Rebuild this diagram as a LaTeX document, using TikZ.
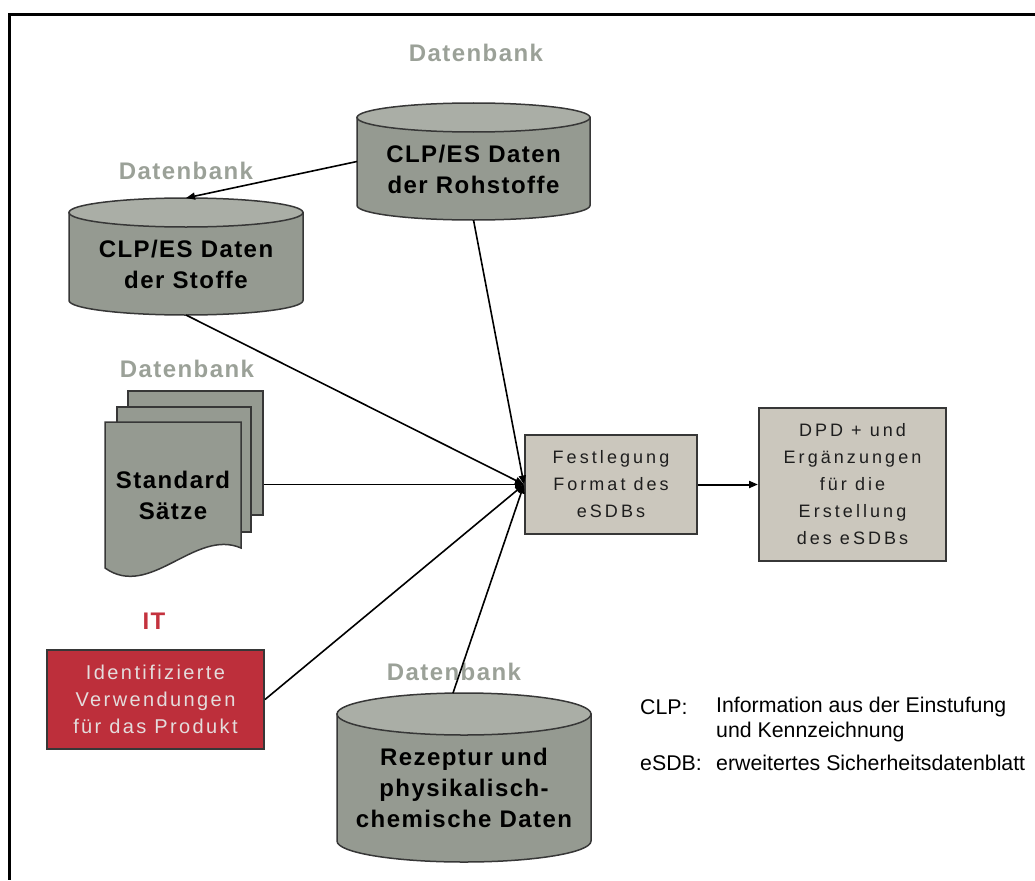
\documentclass[tikz,border=0pt]{standalone}
\usepackage{fontspec}
\setmainfont{Liberation Sans}
\newfontfamily\lblfont[LetterSpace=6]{Liberation Sans}
\newfontfamily\boxfont[LetterSpace=17]{Liberation Sans}
\newfontfamily\itboxfont[LetterSpace=12]{Liberation Sans}
\usetikzlibrary{arrows.meta}
\definecolor{cylbody}{RGB}{149,154,145}
\definecolor{cyltop}{RGB}{170,174,166}
\definecolor{outline}{RGB}{55,55,55}
\definecolor{dbgray}{RGB}{155,161,152}
\definecolor{festfill}{RGB}{203,199,189}
\definecolor{itred}{RGB}{189,47,59}
\definecolor{itlabel}{RGB}{196,50,62}
\definecolor{itlight}{RGB}{228,220,220}
\definecolor{boxtext}{RGB}{30,30,30}
\newcommand{\dbcyl}[6]{%
  \node[cylarea, minimum width={2*#4}, minimum height={#5-#3}] (#1) at (#2,{(#3+#5)/2}) {};
  \path[cylbodyst] ({#2-#4},{#3+#6}) -- ({#2-#4},{#5-#6})
     arc[start angle=180, end angle=360, x radius=#4pt, y radius=#6pt]
     -- ({#2+#4},{#3+#6}) -- cycle;
  \path[cyltopst] (#2,{#3+#6}) ellipse[x radius=#4pt, y radius=#6pt];
}
\begin{document}
\begin{tikzpicture}[x=1pt,y=-1pt,
  dblabel/.style={font=\lblfont\bfseries\fontsize{24}{28}\selectfont, text=dbgray, inner sep=0pt},
  cyltext/.style={font=\lblfont\bfseries\fontsize{24}{31}\selectfont, text=black, align=center, inner sep=0pt},
  cylarea/.style={inner sep=0pt, outer sep=0pt},
  cylbodyst/.style={fill=cylbody, draw=outline, line width=1.5pt},
  cyltopst/.style={fill=cyltop, draw=outline, line width=1.5pt},
  docpage/.style={fill=cylbody, draw=outline, line width=1.5pt, inner sep=0pt},
  box/.style={draw=outline, line width=2pt, inner sep=0pt, align=center},
  festbox/.style={box, fill=festfill, text=boxtext, font=\boxfont\fontsize{18}{27}\selectfont},
  itbox/.style={box, fill=itred, text=itlight, font=\itboxfont\fontsize{20}{27}\selectfont},
  conn/.style={draw=black, line width=1.6pt, -{Triangle[length=9pt,width=7pt]}},
  legend/.style={font=\fontsize{21.3}{25}\selectfont, inner sep=0pt, anchor=west, align=left},
  frame/.style={draw=black, line width=3pt}
]
\useasboundingbox (0,0) rectangle (1035,880);
\draw[frame] (1035,14.5) -- (9.5,14.5) -- (9.5,880);

% Datenbank labels
\node[dblabel] (db1) at (476,53) {Datenbank};
\node[dblabel] (db2) at (186,171) {Datenbank};
\node[dblabel] (db3) at (187,369) {Datenbank};
\node[dblabel] (db4) at (454,672) {Datenbank};
\node[font=\lblfont\bfseries\fontsize{24}{28}\selectfont, text=itlabel, inner sep=0pt] (itlbl) at (154,621) {IT};

% cylinders
\dbcyl{c1}{473.5}{103}{116.5}{220}{14.5}
\node[cyltext] (c1t) at (473.5,169) {CLP/ES Daten\\der Rohstoffe};
\dbcyl{c2}{186}{198}{117}{315}{14.5}
\node[cyltext] (c2t) at (186,264) {CLP/ES Daten\\der Stoffe};
\dbcyl{c3}{464}{693}{127}{862}{21}
\node[cyltext] (c3t) at (464,788) {Rezeptur und\\physikalisch-\\chemische Daten};

% standard documents
\node[docpage, minimum width=135pt, minimum height=124pt] (stdback) at (195.5,453) {};
\node[docpage, minimum width=134pt, minimum height=125pt] (stdmid) at (184,469.5) {};
\path[docpage] (105,422) -- (105,568) .. controls (150,600) and (195,528) .. (241,548) -- (241,422) -- cycle;
\node[cyltext] (std) at (173,495) {Standard\\Sätze};

% boxes
\node[itbox, minimum width=217pt, minimum height=99pt] (itbox) at (155.5,699.5) {Identifizierte\\Verwendungen\\für das Produkt};
\node[festbox, minimum width=172pt, minimum height=99pt] (fest) at (611,484.5) {Festlegung\\Format des\\eSDBs};
\node[festbox, minimum width=187pt, minimum height=153pt] (dpd) at (852.5,484.5) {DPD + und\\Ergänzungen\\für die\\Erstellung\\des eSDBs};

% connectors
\draw[conn] (c1.west) -- (c2.north);
\draw[conn] (c1.south) -- (fest.west);
\draw[conn] (c2.south) -- (fest.west);
\draw[conn] (stdback.east |- fest.west) -- (fest.west);
\draw[conn] (itbox.east) -- (fest.west);
\draw[conn] ([xshift=-11pt]c3.north) -- (fest.west);
\draw[conn, line width=2pt] (fest.east) -- (dpd.west);

% legend
\node[legend] (lclp) at (640,707) {CLP:};
\node[legend] (lclpt) at (716,707) {Information aus der Einstufung};
\node[legend] (lclpt2) at (716,732) {und Kennzeichnung};
\node[legend] (lesdb) at (640,763) {eSDB:};
\node[legend] (lesdbt) at (716,763) {erweitertes Sicherheitsdatenblatt};
\end{tikzpicture}
\end{document}
